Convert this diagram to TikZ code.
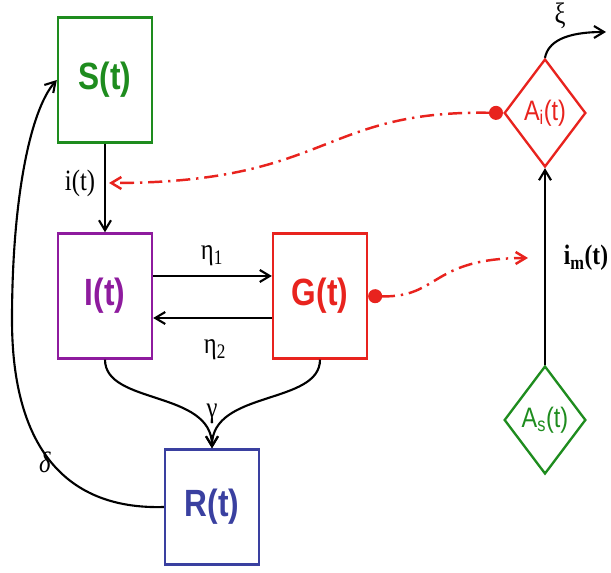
\documentclass[tikz,border=0pt]{standalone}
\usepackage{fontspec}
\usepackage{graphicx}
\setmainfont{Liberation Serif}
\newfontfamily\boxfont{Liberation Sans}
\usetikzlibrary{arrows.meta,positioning,shapes.geometric}
\definecolor{sgreen}{HTML}{1E8C1E}
\definecolor{ipurple}{HTML}{8E1B9E}
\definecolor{gred}{HTML}{E8231E}
\definecolor{rblue}{HTML}{3A40A0}
\newcommand{\tallt}[1]{\scalebox{1}[1.2]{#1}}

\begin{document}
\begin{tikzpicture}[x=0.03cm, y=-0.03cm,
        compartment/.style={rectangle, draw=#1, text=#1, line width=2pt, minimum width=2.82cm, minimum height=3.75cm, inner sep=0pt, font=\boxfont\bfseries\fontsize{27}{30}\selectfont},
        antigen/.style={diamond, draw=#1, text=#1, line width=2pt, minimum width=2.45cm, minimum height=3.24cm, inner sep=0pt, font=\boxfont\fontsize{20}{22}\selectfont},
        flow/.style={draw=black, line width=1.8pt, -{Straight Barb[length=3mm,width=3.6mm]}},
        signal/.style={draw=gred, line width=2.1pt, dash pattern=on 12pt off 5pt on 2pt off 5pt, {Circle[length=4.2mm]}-{Straight Barb[length=3mm,width=3.6mm]}},
        rate/.style={font=\fontsize{21}{23}\selectfont}
    ]
        \useasboundingbox (0,0) rectangle (611,573);

        \node[compartment=sgreen] (S) at (105,80) {\tallt{S(t)}};
        \node[compartment=ipurple] (I) at (105,296) {\tallt{I(t)}};
        \node[compartment=gred] (G) at (320,296) {\tallt{G(t)}};
        \node[compartment=rblue, minimum height=3.45cm] (R) at (212,507) {\tallt{R(t)}};

        \node[antigen=gred] (Ai) at (545,113) {\tallt{A\textsubscript{i}(t)}};
        \node[antigen=sgreen] (As) at (545,420) {\tallt{A\textsubscript{s}(t)}};

        \coordinate (iarr) at (109,183);
        \coordinate (imarr) at (528,258);
        \coordinate (xiend) at (606,32);

        \draw[flow] (S) -- (I);
        \draw[flow] ([yshift=0.6cm]I.east) -- ([yshift=0.6cm]G.west);
        \draw[flow] ([yshift=-0.66cm]G.west) -- ([yshift=-0.66cm]I.east);
        \draw[flow] (I.south) .. controls (105,405) and (212,390) .. (R.north);
        \draw[flow] (G.south) .. controls (320,405) and (212,390) .. (R.north);
        \draw[flow] (R.west) .. controls (60,510) and (12,440) .. (12,320) .. controls (12,200) and (30,110) .. (S.west);
        \draw[flow] (As.north) -- (Ai.south);
        \draw[flow] (Ai.north) .. controls (548,42) and (565,32) .. (xiend);

        \draw[signal] (Ai.west) .. controls (320,110) and (330,183) .. (iarr);
        \draw[signal] (G.east) .. controls (440,298) and (430,258) .. (imarr);

        \node[rate] (ilab) at (80,183) {\tallt{i(t)}};
        \node[rate] (etaone) at (212,256) {\tallt{η\textsubscript{1}}};
        \node[rate] (etatwo) at (215,350) {\tallt{η\textsubscript{2}}};
        \node[rate] (gamma) at (212,414) {\tallt{γ}};
        \node[rate] (delta) at (45,462) {\tallt{\textit{δ}}};
        \node[rate] (xi) at (560,16) {\tallt{ξ}};
        \node[rate, font=\bfseries\fontsize{20}{22}\selectfont] (imlab) at (586,258) {\tallt{i\textsubscript{m}(t)}};
    \end{tikzpicture}
\end{document}
